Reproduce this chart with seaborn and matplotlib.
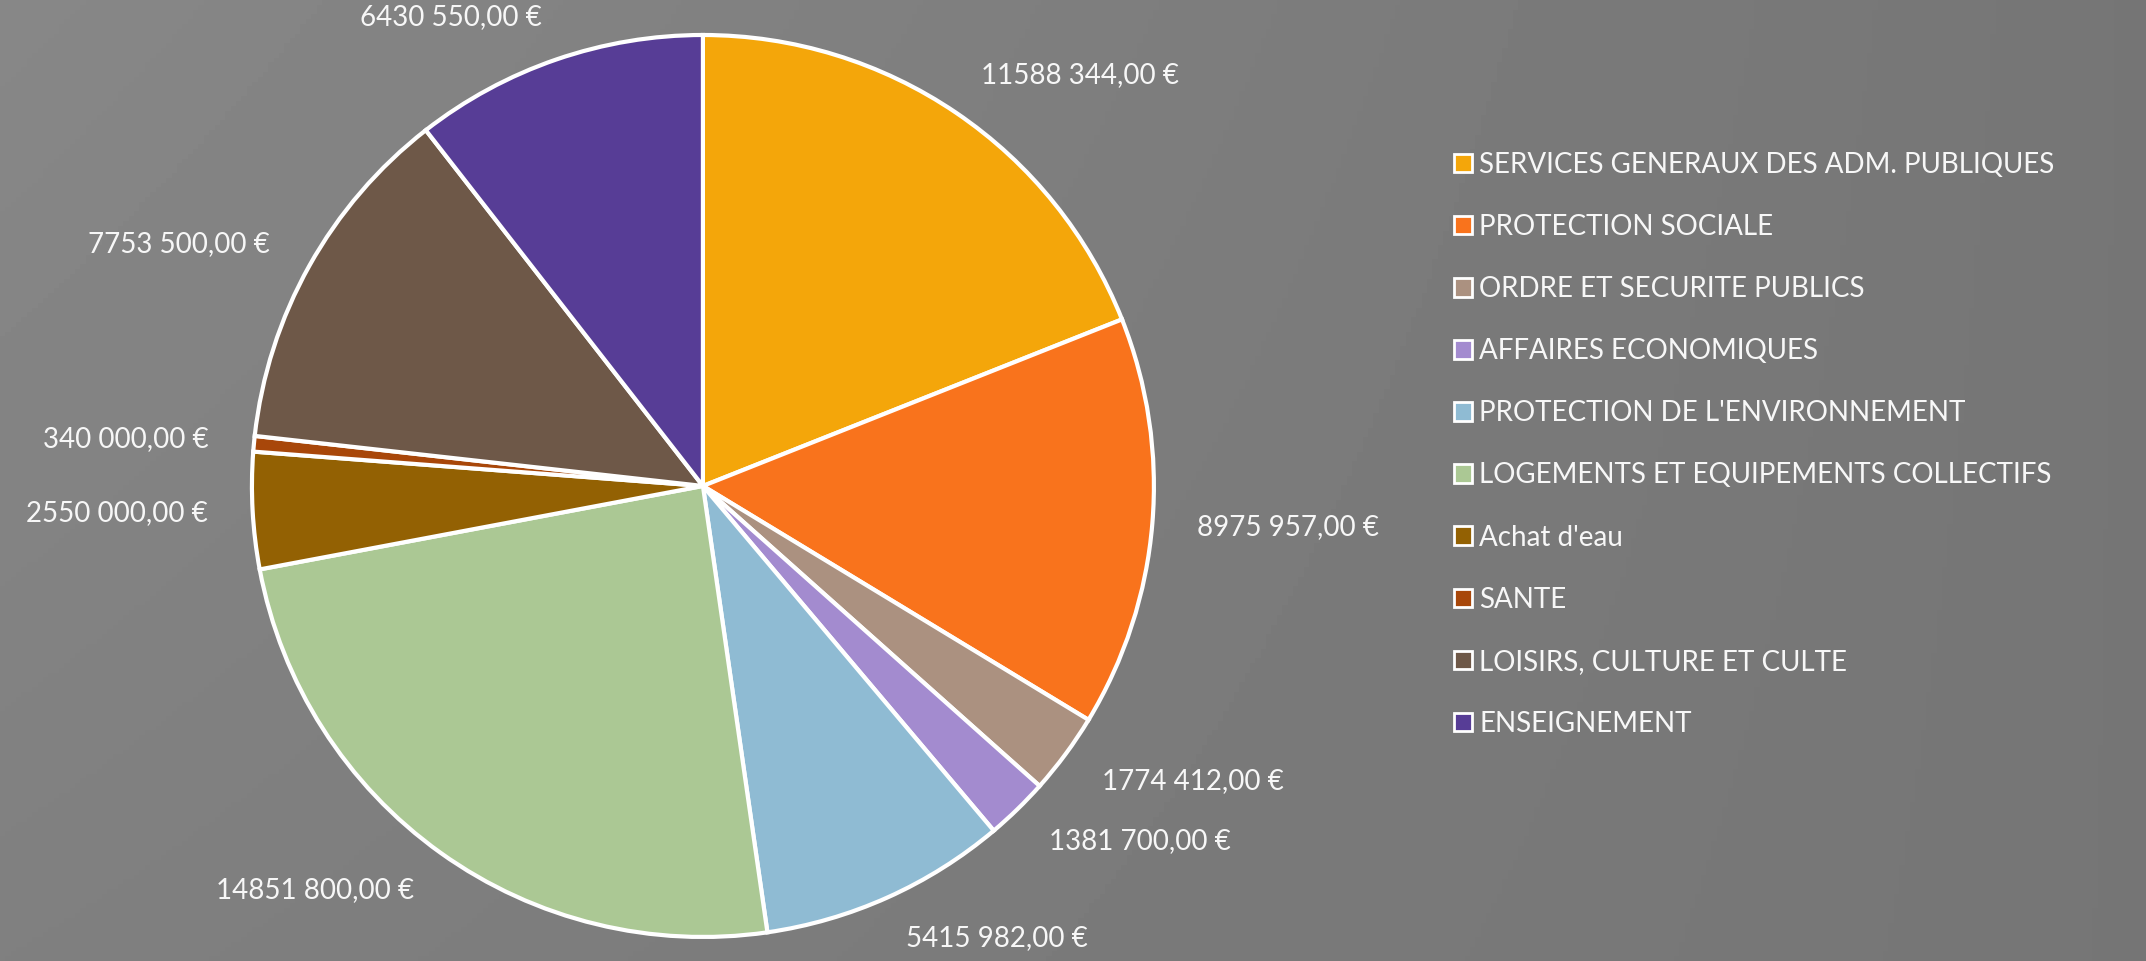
import numpy as np
import matplotlib
matplotlib.use("Agg")
import matplotlib.pyplot as plt
import matplotlib.patches as mpatches
import seaborn as sns

# data
categories = [
    "SERVICES GENERAUX DES ADM. PUBLIQUES",
    "PROTECTION SOCIALE",
    "ORDRE ET SECURITE PUBLICS",
    "AFFAIRES ECONOMIQUES",
    "PROTECTION DE L'ENVIRONNEMENT",
    "LOGEMENTS ET EQUIPEMENTS COLLECTIFS",
    "Achat d'eau",
    "SANTE",
    "LOISIRS, CULTURE ET CULTE",
    "ENSEIGNEMENT",
]
amounts = [11588344, 8975957, 1774412, 1381700, 5415982,
           14851800, 2550000, 340000, 7753500, 6430550]
colors = ["#f4a60a", "#f9731c", "#ab9180", "#a38bcf", "#8fbbd3",
          "#abc894", "#936103", "#a8470a", "#6e5848", "#573d96"]


def euro(v):
    # French style: "11588 344,00 €"
    s = f"{v:,.2f}".replace(",", " ").replace(".", ",")
    parts = s.split(" ")
    if len(parts) > 2:
        s = "".join(parts[:-1]) + " " + parts[-1]
    return s + " €"


sns.set_style("white")
plt.rcParams["font.family"] = ["Lato", "DejaVu Sans"]
text_color = "#f7f7f7"
bg = "#7b7b7b"

fig = plt.figure(figsize=(21.46, 9.61), dpi=100, facecolor=bg)

# soft background shading
bg_ax = fig.add_axes([0, 0, 1, 1], zorder=-1)
yy, xx = np.mgrid[0:1:200j, 0:1:400j]
shade = 0.50 - 0.04 * xx + 0.03 * (1 - yy) * (1 - xx)
bg_ax.imshow(shade, cmap="gray", vmin=0, vmax=1, aspect="auto",
             extent=[0, 1, 0, 1], origin="upper")
bg_ax.axis("off")

ax = fig.add_axes([0.1174, 0.025, 0.4203, 0.9386])
wedges, texts = ax.pie(
    amounts,
    colors=sns.color_palette(colors),
    labels=[euro(v) for v in amounts],
    labeldistance=1.1,
    startangle=90,
    counterclock=False,
    wedgeprops=dict(edgecolor="white", linewidth=3),
    textprops=dict(color=text_color, fontsize=20),
)
ax.set_xlim(-1, 1)
ax.set_ylim(-1, 1)
ax.set_aspect("equal")
ax.axis("off")

handles = [mpatches.Patch(facecolor=c, edgecolor="white", linewidth=2)
           for c in colors]
leg = fig.legend(
    handles, categories,
    loc="upper left", bbox_to_anchor=(0.666, 0.868),
    frameon=False, labelcolor=text_color,
    handlelength=0.65, handleheight=0.65, handletextpad=0.25,
    labelspacing=1.3,
    prop=dict(size=20),
)

fig.savefig("out.png", dpi=100, facecolor=bg)
